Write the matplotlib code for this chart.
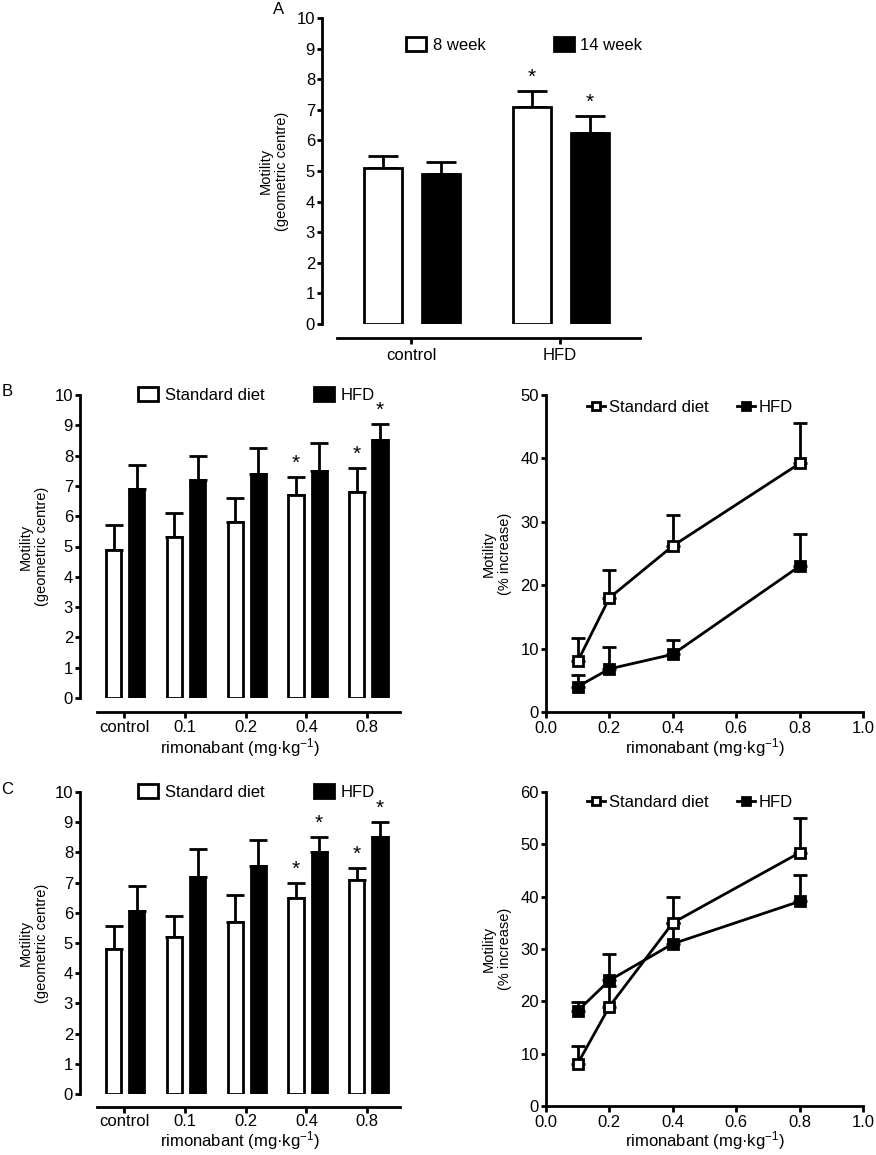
import matplotlib
matplotlib.use('Agg')
import matplotlib.pyplot as plt
from matplotlib.patches import Patch
from matplotlib.lines import Line2D
import numpy as np

plt.rcParams['font.family'] = ['Liberation Sans', 'DejaVu Sans']
plt.rcParams['mathtext.fontset'] = 'custom'
plt.rcParams['mathtext.rm'] = 'Liberation Sans'
plt.rcParams['mathtext.it'] = 'Liberation Sans:italic'

# ---- data ----
# panel A
a_groups = ['control', 'HFD']
a_8wk = [5.1, 7.1]
a_8wk_err = [0.4, 0.5]
a_8wk_star = [False, True]
a_14wk = [4.9, 6.25]
a_14wk_err = [0.4, 0.55]
a_14wk_star = [False, True]

# panels B/C, bar charts
doses = ['control', '0.1', '0.2', '0.4', '0.8']
b_std = [4.9, 5.3, 5.8, 6.7, 6.8]
b_std_err = [0.8, 0.8, 0.8, 0.6, 0.8]
b_std_star = [False, False, False, True, True]
b_hfd = [6.9, 7.2, 7.4, 7.5, 8.5]
b_hfd_err = [0.8, 0.8, 0.85, 0.9, 0.55]
b_hfd_star = [False, False, False, False, True]

c_std = [4.8, 5.2, 5.7, 6.5, 7.1]
c_std_err = [0.75, 0.7, 0.9, 0.5, 0.4]
c_std_star = [False, False, False, True, True]
c_hfd = [6.05, 7.2, 7.55, 8.0, 8.5]
c_hfd_err = [0.85, 0.9, 0.85, 0.5, 0.5]
c_hfd_star = [False, False, False, True, True]

# panels B/C, % increase
dose_x = [0.1, 0.2, 0.4, 0.8]
b_std_pct = [8.0, 18.0, 26.2, 39.2]
b_std_pct_err = [3.7, 4.4, 4.8, 6.4]
b_hfd_pct = [4.0, 6.8, 9.1, 23.0]
b_hfd_pct_err = [1.9, 3.4, 2.2, 5.0]

c_std_pct = [8.1, 19.0, 35.0, 48.4]
c_std_pct_err = [3.4, 4.0, 5.0, 6.7]
c_hfd_pct = [18.2, 24.0, 31.0, 39.1]
c_hfd_pct_err = [1.6, 5.0, 4.0, 5.1]

XLABEL = 'rimonabant (mg·kg$^{-1}$)'
LW = 2.0


def px_axes(fig, left, top, right, bottom, W=876, H=1155):
    return fig.add_axes([left / W, 1 - bottom / H, (right - left) / W, (bottom - top) / H])


def style_common(ax):
    for s in ['top', 'right']:
        ax.spines[s].set_visible(False)
    for s in ['left', 'bottom']:
        ax.spines[s].set_linewidth(LW)
    ax.tick_params(width=LW, length=3.5, labelsize=12, pad=1.5, direction='out')


def bar_panel(ax, labels, v1, e1, s1, v2, e2, s2, names, xlim, spine_start,
              off, width, leg_anchor, colsp, star_off, outward=10):
    x = np.arange(len(labels))
    ax.bar(x + off[0], v1, width, color='white', edgecolor='black', linewidth=LW, zorder=3)
    ax.bar(x + off[1], v2, width, color='black', edgecolor='black', linewidth=LW, zorder=3)
    ax.errorbar(x + off[0], v1, yerr=[np.zeros(len(v1)), e1], fmt='none', ecolor='black',
                elinewidth=LW, capsize=star_off[1], capthick=LW, zorder=2)
    ax.errorbar(x + off[1], v2, yerr=[np.zeros(len(v2)), e2], fmt='none', ecolor='black',
                elinewidth=LW, capsize=star_off[1], capthick=LW, zorder=2)
    for xs, vals, errs, stars in [(x + off[0], v1, e1, s1), (x + off[1], v2, e2, s2)]:
        for xi, vi, ei, st in zip(xs, vals, errs, stars):
            if st:
                ax.annotate('*', (xi, vi + ei), xytext=(0, star_off[0]), textcoords='offset points',
                            ha='center', va='bottom', fontsize=15)
    style_common(ax)
    ax.set_xlim(*xlim)
    ax.set_ylim(0, 10)
    ax.set_yticks(range(0, 11))
    ax.set_xticks(x)
    ax.set_xticklabels(labels)
    ax.spines['bottom'].set_position(('outward', outward))
    ax.spines['bottom'].set_bounds(spine_start, xlim[1])
    ax.tick_params(axis='x', length=4, pad=1.5)
    handles = [Patch(facecolor='white', edgecolor='black', linewidth=LW),
               Patch(facecolor='black', edgecolor='black', linewidth=LW)]
    ax.legend(handles, names, loc='center left', bbox_to_anchor=leg_anchor, ncol=2,
              frameon=False, fontsize=12, handlelength=1.2, handleheight=0.85,
              handletextpad=0.4, columnspacing=colsp, borderpad=0, borderaxespad=0)


def line_panel(ax, xs, v1, e1, v2, e2, ymax, leg_anchor, lpad):
    ax.errorbar(xs, v1, yerr=[np.zeros(len(v1)), e1], fmt='none', ecolor='black',
                elinewidth=LW, capsize=5, capthick=LW, zorder=2)
    ax.errorbar(xs, v2, yerr=[np.zeros(len(v2)), e2], fmt='none', ecolor='black',
                elinewidth=LW, capsize=5, capthick=LW, zorder=2)
    ax.plot(xs, v2, color='black', lw=LW, marker='s', ms=7.5, mfc='black', mec='black',
            mew=LW, zorder=3)
    ax.plot(xs, v1, color='black', lw=LW, marker='s', ms=7.5, mfc='white', mec='black',
            mew=LW, zorder=4)
    style_common(ax)
    ax.set_xlim(0, 1.0)
    ax.set_ylim(0, ymax)
    ax.set_xticks(np.arange(0, 1.01, 0.2))
    ax.set_xticklabels(['%.1f' % t for t in np.arange(0, 1.01, 0.2)])
    ax.set_yticks(range(0, ymax + 1, 10))
    ax.tick_params(axis='x', length=4.5, pad=2)
    handles = [Line2D([], [], color='black', lw=LW, marker='s', ms=6, mfc='white', mec='black', mew=LW),
               Line2D([], [], color='black', lw=LW, marker='s', ms=6, mfc='black', mec='black', mew=LW)]
    ax.legend(handles, ['Standard diet', 'HFD'], loc='center left', bbox_to_anchor=leg_anchor,
              ncol=2, frameon=False, fontsize=12, handlelength=1.1, handletextpad=0.2,
              columnspacing=1.7, borderpad=0, borderaxespad=0)
    ax.set_xlabel(XLABEL, fontsize=12, labelpad=lpad)


fig = plt.figure(figsize=(8.76, 11.55), dpi=100)

# panel A
axA = px_axes(fig, 322, 18, 640, 324)
bar_panel(axA, a_groups, a_8wk, a_8wk_err, a_8wk_star, a_14wk, a_14wk_err, a_14wk_star,
          ['8 week', '14 week'], (-0.597, 1.537), -0.497, (-0.188, 0.2), 0.255,
          (0.264, 0.912), 4.1, (3, 11))
axA.tick_params(axis='x', pad=3)
axA.text(-0.151, 0.5, 'Motility\n(geometric centre)', transform=axA.transAxes, rotation=90,
         ha='center', va='center', fontsize=10.5)
fig.text(279 / 876, 1 - 10 / 1155, 'A', ha='center', va='center', fontsize=12)

# panel B
axB1 = px_axes(fig, 80, 395, 400, 698)
bar_panel(axB1, doses, b_std, b_std_err, b_std_star, b_hfd, b_hfd_err, b_hfd_star,
          ['Standard diet', 'HFD'], (-0.724, 4.54), -0.444, (-0.17, 0.21), 0.25,
          (0.181, 1.0), 3.0, (3, 6.5))
axB1.set_xlabel(XLABEL, fontsize=12, labelpad=1)
axB1.text(-0.144, 0.5, 'Motility\n(geometric centre)', transform=axB1.transAxes, rotation=90,
          ha='center', va='center', fontsize=10.5)
fig.text(7 / 876, 1 - 392 / 1155, 'B', ha='center', va='center', fontsize=12)

axB2 = px_axes(fig, 546, 395, 863, 712)
line_panel(axB2, dose_x, b_std_pct, b_std_pct_err, b_hfd_pct, b_hfd_pct_err, 50, (0.129, 0.962), 0)
axB2.text(-0.155, 0.5, 'Motility\n(% increase)', transform=axB2.transAxes, rotation=90,
          ha='center', va='center', fontsize=10.5)

# panel C
axC1 = px_axes(fig, 80, 792, 400, 1094)
bar_panel(axC1, doses, c_std, c_std_err, c_std_star, c_hfd, c_hfd_err, c_hfd_star,
          ['Standard diet', 'HFD'], (-0.724, 4.54), -0.444, (-0.17, 0.21), 0.25,
          (0.181, 1.0), 3.0, (3, 6.5), outward=9)
axC1.set_xlabel(XLABEL, fontsize=12, labelpad=0)
axC1.text(-0.144, 0.5, 'Motility\n(geometric centre)', transform=axC1.transAxes, rotation=90,
          ha='center', va='center', fontsize=10.5)
fig.text(7 / 876, 1 - 790 / 1155, 'C', ha='center', va='center', fontsize=12)

axC2 = px_axes(fig, 546, 792, 863, 1106)
line_panel(axC2, dose_x, c_std_pct, c_std_pct_err, c_hfd_pct, c_hfd_pct_err, 60, (0.129, 0.968), -1)
axC2.text(-0.155, 0.5, 'Motility\n(% increase)', transform=axC2.transAxes, rotation=90,
          ha='center', va='center', fontsize=10.5)

fig.savefig('out.png', dpi=100, facecolor='white')
